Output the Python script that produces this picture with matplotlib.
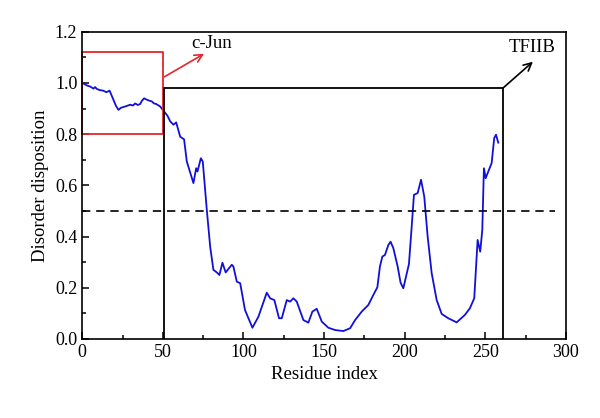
import matplotlib.pyplot as plt
from matplotlib.ticker import MultipleLocator

# traced points of the disorder profile (residue, disposition)
residue = [1, 3, 5, 7, 8, 9, 11, 13, 15, 17, 19.4, 21, 22.5, 24, 25.6, 27.5, 29.8, 31.5,
           32.9, 34.5, 36, 37, 38.4, 40, 41.1, 43.2, 44.5, 45.9,
           48.4, 50.4, 52.9, 54.6, 56.6, 58.3, 60.8, 63.2, 64.9, 69, 70.7, 71.5, 73.6,
           74.8, 77.3, 79.4, 81.4, 83.5, 85.1, 87, 89, 92.8, 93.8, 95.9, 98, 101,
           105.6, 109.3, 114.5, 116.6, 119.2, 122.1, 123.8, 126.9, 129, 131, 133.1,
           137.2, 140.3, 142.8, 145.5, 148.6, 152.7, 156.9, 162, 166.2, 169.3, 173.4,
           177.5, 180.6, 183.1, 184.7, 186.2, 187.8, 189.9, 191.3, 193, 195.7, 197.5,
           199.2, 202.7, 204.4, 205.8, 208.1, 210.2, 212.2, 214.3, 216.8, 219.9, 223,
           227.1, 232.3, 237.4, 240.5, 243.2, 245.3, 246.9, 248.2, 249.2, 250.3, 251.9,
           254, 255.6, 256.7, 258.1]
disorder = [0.997, 0.99, 0.986, 0.978, 0.984, 0.977, 0.972, 0.97, 0.964, 0.97, 0.934,
            0.91, 0.895, 0.903, 0.906, 0.91, 0.915, 0.912, 0.92, 0.914, 0.918, 0.93,
            0.94, 0.935, 0.932, 0.928, 0.92, 0.918, 0.908, 0.892, 0.872, 0.85, 0.837,
            0.846, 0.79, 0.78, 0.693, 0.609, 0.667, 0.654, 0.706, 0.693, 0.504, 0.36,
            0.27, 0.26, 0.25, 0.298, 0.26, 0.29, 0.283, 0.224, 0.218, 0.113, 0.044,
            0.087, 0.181, 0.159, 0.152, 0.081, 0.081, 0.152, 0.146, 0.159, 0.146,
            0.074, 0.064, 0.107, 0.118, 0.068, 0.044, 0.035, 0.031, 0.042, 0.074,
            0.107, 0.133, 0.172, 0.202, 0.283, 0.322, 0.328, 0.367, 0.38, 0.355,
            0.283, 0.22, 0.198, 0.293, 0.439, 0.563, 0.57, 0.622, 0.556, 0.40, 0.257,
            0.152, 0.098, 0.081, 0.065, 0.094, 0.12, 0.159, 0.387, 0.341, 0.426,
            0.667, 0.628, 0.654, 0.687, 0.785, 0.798, 0.767]

threshold = 0.5
cjun_box = (0, 50, 0.80, 1.12)      # x0, x1, y0, y1
tfiib_box = (51, 261, 0.0, 0.98)

plt.rcParams['font.family'] = ['Liberation Serif', 'DejaVu Serif']

fig = plt.figure(figsize=(6, 4.18), dpi=100)
ax = fig.add_axes([0.137, 0.189, 0.806, 0.735])

ax.plot(residue, disorder, color='#1010d8', lw=1.3)
ax.plot([0, 293], [threshold, threshold], color='black', lw=1.2, ls=(0, (5, 3.5)))

# c-Jun region
x0, x1, y0, y1 = cjun_box
ax.plot([x0, x1, x1, x0, x0], [y0, y0, y1, y1, y0], color='#e3262b', lw=1.3, clip_on=False)
ax.annotate('', xy=(75.6, 1.114), xytext=(51, 1.024),
            arrowprops=dict(arrowstyle='->', color='#e3262b', lw=1.2, mutation_scale=14,
                            shrinkA=0, shrinkB=0))
ax.text(80, 1.155, 'c-Jun', fontsize=13.5, ha='center', va='center')

# TFIIB region
x0, x1, y0, y1 = tfiib_box
ax.plot([x0, x0, x1, x1], [y0, y1, y1, y0], color='black', lw=1.3)
ax.annotate('', xy=(279.6, 1.083), xytext=(261, 0.98),
            arrowprops=dict(arrowstyle='->', color='black', lw=1.2, mutation_scale=14,
                            shrinkA=0, shrinkB=0))
ax.text(279, 1.137, 'TFIIB', fontsize=13.5, ha='center', va='center')

ax.set_xlim(0, 300)
ax.set_ylim(0, 1.2)
ax.xaxis.set_major_locator(MultipleLocator(50))
ax.xaxis.set_minor_locator(MultipleLocator(25))
ax.yaxis.set_major_locator(MultipleLocator(0.2))
ax.yaxis.set_minor_locator(MultipleLocator(0.1))
ax.yaxis.set_major_formatter(plt.FormatStrFormatter('%.1f'))
ax.tick_params(which='both', direction='in', top=False, right=False, labelsize=13, width=1.1)
ax.tick_params(which='major', length=5)
ax.tick_params(which='minor', length=2.7)
for s in ax.spines.values():
    s.set_linewidth(1.2)

ax.set_xlabel('Residue index', fontsize=13.5)
ax.set_ylabel('Disorder disposition', fontsize=13.5)

fig.savefig('out.png')
